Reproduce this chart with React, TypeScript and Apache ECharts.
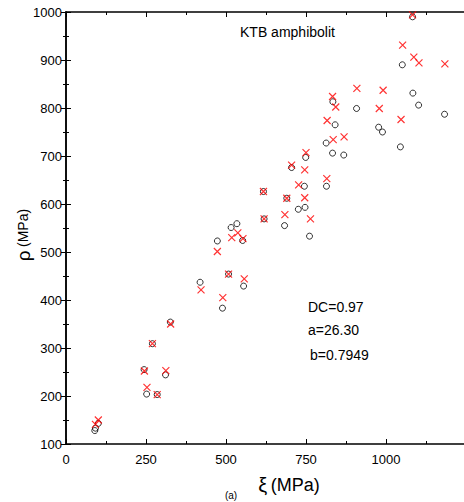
import React, { useEffect, useRef } from "react";
import * as echarts from "echarts";

const xTicks = [0, 250, 500, 750, 1000];
const yTicks = [100, 200, 300, 400, 500, 600, 700, 800, 900, 1000];

// measured (black circles): [xi, rho]
const measuredXi = [90, 92, 101, 244, 252, 270, 285, 311, 326, 419, 473, 489, 508, 516, 534, 552, 555, 617, 619, 683, 690, 705, 726, 745, 747, 749, 761, 813, 814, 833, 834, 841, 868, 908, 977, 989, 1045, 1051, 1083, 1084, 1102, 1183];
const measuredRho = [128, 133, 143, 255, 204, 309, 203, 244, 354, 437, 523, 383, 454, 551, 559, 524, 429, 626, 569, 555, 612, 676, 589, 637, 593, 697, 533, 727, 637, 706, 813, 765, 702, 799, 760, 750, 719, 890, 990, 831, 806, 787];

// calculated (red crosses)
const calcXi = [92, 101, 245, 253, 270, 285, 312, 327, 422, 473, 490, 508, 518, 537, 553, 557, 617, 619, 684, 690, 705, 727, 746, 746, 750, 764, 815, 816, 833, 835, 843, 869, 909, 979, 991, 1047, 1052, 1083, 1087, 1103, 1184];
const calcRho = [141, 150, 252, 218, 309, 203, 253, 350, 421, 501, 405, 454, 530, 540, 528, 444, 626, 569, 578, 612, 681, 640, 613, 671, 707, 569, 653, 774, 824, 734, 802, 740, 841, 799, 837, 776, 931, 994, 906, 894, 892];

const sampleName = "KTB amphibolit";
const fitLines = ["DC=0.97", "a=26.30", "b=0.7949"];

const FONT = "Liberation Sans, Arial, sans-serif";

export default function App() {
  const ref = useRef<HTMLDivElement>(null);
  useEffect(() => {
    if (!ref.current) return;
    const chart = echarts.init(ref.current, undefined, { renderer: "svg" });
    const axisCommon = {
      type: "value" as const,
      axisLine: { show: true, lineStyle: { color: "#000", width: 1.5 } },
      axisTick: { show: true, inside: true, length: 5, lineStyle: { color: "#000", width: 1 } },
      minorTick: { show: true, splitNumber: 2, length: 3, lineStyle: { color: "#000", width: 1 } },
      splitLine: { show: false },
    };
    const labelStyle = { color: "#000", fontSize: 13, fontFamily: FONT };
    chart.setOption({
      animation: false,
      backgroundColor: "#fff",
      grid: { left: 66, top: 12, width: 400, height: 432 },
      xAxis: [
        {
          ...axisCommon,
          position: "bottom",
          min: 0,
          max: 1250,
          interval: 250,
          axisLabel: {
            ...labelStyle,
            margin: 9,
            showMaxLabel: false,
            formatter: (v: number) => (xTicks.includes(v) ? String(v) : ""),
          },
        },
        {
          ...axisCommon,
          position: "top",
          min: 0,
          max: 1250,
          interval: 250,
          axisLabel: { show: false },
        },
      ],
      yAxis: [
        {
          ...axisCommon,
          position: "left",
          min: 100,
          max: 1000,
          interval: 100,
          axisLabel: {
            ...labelStyle,
            margin: 4,
            formatter: (v: number) => (yTicks.includes(v) ? String(v) : ""),
          },
        },
        {
          ...axisCommon,
          position: "right",
          min: 100,
          max: 1000,
          interval: 100,
          axisLabel: { show: false },
        },
      ],
      series: [
        {
          type: "scatter",
          xAxisIndex: 0,
          yAxisIndex: 0,
          symbol: "circle",
          symbolSize: 6,
          itemStyle: { color: "rgba(0,0,0,0)", borderColor: "#000", borderWidth: 1 },
          data: measuredXi.map((x, i) => [x, measuredRho[i]]),
        },
        {
          type: "scatter",
          xAxisIndex: 0,
          yAxisIndex: 0,
          symbol: "path://M0,0L10,10M0,10L10,0",
          symbolSize: 7,
          itemStyle: { color: "none", borderColor: "#ff0000", borderWidth: 1.2 },
          data: calcXi.map((x, i) => [x, calcRho[i]]),
        },
      ],
      graphic: [
        {
          type: "text",
          left: 240,
          top: 25,
          style: { text: sampleName, fill: "#000", fontSize: 14, fontFamily: FONT },
        },
        ...fitLines.map((t, i) => ({
          type: "text",
          left: i === 2 ? 310 : 308,
          top: [300, 323, 348][i],
          style: { text: t, fill: "#000", fontSize: 14, fontFamily: FONT },
        })),
        {
          type: "text",
          x: 23,
          y: 235,
          rotation: Math.PI / 2,
          style: {
            text: "{r|ρ} {m|(MPa)}",
            textAlign: "center",
            textVerticalAlign: "middle",
            fill: "#000",
            fontFamily: FONT,
            rich: {
              r: { fontSize: 19, fontFamily: FONT, fill: "#000" },
              m: { fontSize: 14, fontFamily: FONT, fill: "#000" },
            },
          },
        },
        {
          type: "text",
          x: 289,
          y: 485,
          style: {
            text: "{r|ξ} {m|(MPa)}",
            textAlign: "center",
            textVerticalAlign: "middle",
            fill: "#000",
            fontFamily: FONT,
            rich: {
              r: { fontSize: 20, fontFamily: FONT, fill: "#000" },
              m: { fontSize: 18, fontFamily: FONT, fill: "#000" },
            },
          },
        },
        {
          type: "text",
          x: 231,
          y: 490,
          style: { text: "(a)", textAlign: "center", fill: "#000", fontSize: 10, fontFamily: FONT },
        },
      ],
    });
    return () => chart.dispose();
  }, []);
  return (
    <div
      ref={ref}
      style={{ position: "fixed", left: 0, top: 0, width: 470, height: 502 }}
    />
  );
}
